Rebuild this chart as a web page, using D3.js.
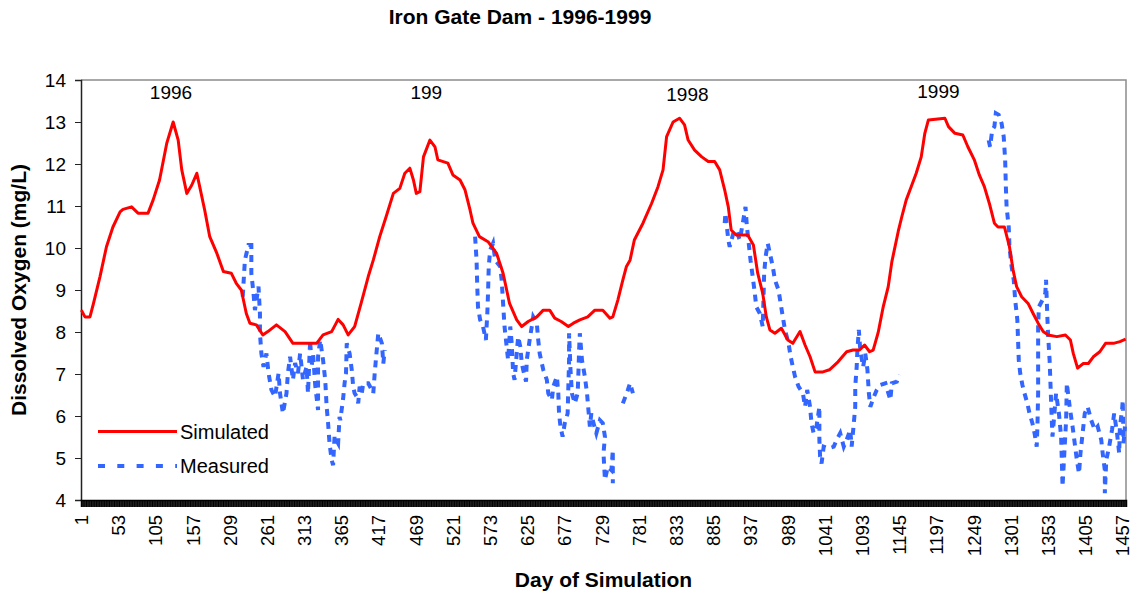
<!DOCTYPE html>
<html>
<head>
<meta charset="utf-8">
<title>Iron Gate Dam - 1996-1999</title>
<script src="https://cdn.jsdelivr.net/npm/d3@7"></script>
<style>
  html, body { margin: 0; padding: 0; background: #fff; }
  svg { display: block; font-family: "Liberation Sans", Arial, sans-serif; }
  .tick text { fill: #000; }
</style>
</head>
<body>
<svg id="chart" width="1132" height="594"></svg>
<script>
// Simulated DO (day, mg/L)
const simulated = [
  [1,8.52],[6,8.36],[13,8.36],[18,8.69],[27,9.32],[36,10.03],[45,10.5],[55,10.86],[59,10.92],[71,10.98],
  [80,10.83],[94,10.83],[101,11.14],[110,11.62],[120,12.49],[129,13.0],[136,12.57],[141,11.86],[148,11.3],
  [155,11.5],[162,11.78],[166,11.46],[173,10.9],[180,10.27],[190,9.87],[199,9.44],[210,9.4],[217,9.16],
  [224,9.0],[231,8.44],[236,8.21],[245,8.17],[254,7.93],[261,8.01],[273,8.17],[285,8.01],[296,7.73],
  [329,7.73],[338,7.93],[350,8.01],[359,8.3],[366,8.17],[373,7.93],[382,8.13],[391,8.68],[401,9.32],
  [408,9.71],[417,10.27],[426,10.75],[436,11.3],[445,11.42],[452,11.78],[459,11.9],[464,11.62],[468,11.3],
  [473,11.34],[478,12.17],[487,12.57],[494,12.41],[498,12.1],[512,12.02],[519,11.74],[529,11.62],[536,11.38],
  [543,10.9],[547,10.59],[556,10.27],[568,10.15],[580,9.87],[589,9.4],[598,8.68],[608,8.29],[615,8.13],
  [624,8.25],[636,8.36],[645,8.52],[654,8.52],[661,8.33],[670,8.25],[680,8.13],[687,8.21],[696,8.29],
  [707,8.36],[717,8.52],[728,8.52],[738,8.33],[742,8.36],[749,8.76],[756,9.24],[761,9.56],[766,9.71],
  [772,10.19],[784,10.59],[796,11.06],[805,11.46],[812,11.86],[817,12.65],[826,13.0],[835,13.09],[842,12.93],
  [847,12.57],[856,12.33],[866,12.17],[875,12.06],[884,12.06],[891,11.86],[898,11.38],[903,10.98],[907,10.43],
  [914,10.31],[930,10.31],[938,10.07],[944,9.4],[951,8.92],[956,8.36],[961,8.05],[968,7.97],[977,8.09],
  [986,7.81],[993,7.73],[1003,8.01],[1010,7.69],[1017,7.41],[1024,7.05],[1035,7.05],[1044,7.1],[1056,7.29],
  [1068,7.53],[1077,7.57],[1086,7.57],[1093,7.69],[1100,7.53],[1105,7.57],[1112,7.99],[1119,8.6],[1126,9.08],
  [1131,9.67],[1140,10.4],[1145,10.75],[1151,11.14],[1158,11.46],[1165,11.78],[1172,12.17],[1177,12.73],
  [1182,13.05],[1205,13.09],[1210,12.89],[1219,12.73],[1230,12.69],[1237,12.41],[1246,12.1],[1253,11.74],
  [1260,11.46],[1267,11.06],[1274,10.59],[1279,10.5],[1288,10.5],[1295,10.03],[1300,9.48],[1305,9.08],
  [1312,8.84],[1321,8.68],[1328,8.44],[1335,8.21],[1342,8.01],[1349,7.93],[1361,7.89],[1373,7.93],[1380,7.81],
  [1384,7.49],[1390,7.14],[1398,7.25],[1405,7.25],[1412,7.41],[1421,7.53],[1429,7.73],[1440,7.73],[1449,7.77],
  [1457,7.83]
];

// Measured DO, one array per continuous record
const measured1996 = [
  [226,8.84],[229,9.71],[234,10.07],[238,10.07],[238,9.4],[241,8.92],[243,8.52],[248,9.08],[250,8.44],[250,7.97],
  [252,7.49],[255,7.17],[259,7.49],[262,7.02],[266,6.62],[271,6.46],[276,7.02],[278,6.54],[282,6.06],[287,6.54],
  [289,7.02],[292,7.41],[296,6.86],[299,7.26],[303,7.02],[306,7.49],[310,6.86],[315,7.17],[317,6.54],[320,7.81],
  [322,7.17],[324,7.49],[327,6.74],[331,6.14],[331,7.41],[334,7.81],[338,7.33],[341,6.86],[343,6.22],[345,5.83],
  [347,5.35],[350,4.95],[352,4.83],[354,5.51],[359,5.35],[361,5.98],[362,5.9],[366,6.42],[368,6.78],[370,7.02],
  [371,7.73],[375,7.49],[378,7.1],[380,6.7],[382,6.54],[385,6.46],[387,6.3],[389,6.7],[392,6.54],[394,6.78],
  [401,6.78],[406,6.62],[408,6.54],[410,7.02],[412,7.41],[415,7.97],[420,7.73],[422,7.25],[424,7.57]
];
const measured1997 = [
  [550,10.27],[552,9.71],[553,9.08],[554,8.6],[557,8.29],[561,8.13],[565,7.81],[567,8.44],[568,8.92],[569,9.56],
  [571,9.95],[575,10.11],[578,9.71],[585,9.56],[587,9.24],[589,8.68],[591,8.13],[594,7.65],[596,7.33],[599,8.13],
  [601,7.73],[603,7.02],[605,6.86],[608,7.49],[610,7.89],[613,7.65],[615,7.26],[617,7.1],[621,6.82],[622,7.33],
  [626,7.81],[629,8.13],[631,8.36],[636,8.21],[638,7.81],[640,7.49],[645,7.1],[650,6.86],[652,6.54],[657,6.38],
  [659,6.7],[664,6.94],[666,6.54],[667,6.06],[669,5.75],[672,5.51],[675,5.83],[679,6.06],[680,6.7],[681,7.33],
  [681,7.97],[683,7.1],[685,6.54],[689,6.3],[693,6.54],[694,7.02],[695,7.57],[696,7.97],[699,7.33],[703,6.94],
  [706,6.54],[708,6.14],[710,5.75],[712,6.06],[715,5.83],[719,5.59],[724,5.9],[728,5.83],[731,5.51],[729,5.11],
  [731,4.48],[735,4.79],[740,4.71],[742,5.19],[742,4.4]
];
const measured1997b = [[756,6.3],[763,6.62],[766,6.78],[770,6.54]];
const measured1998 = [
  [898,10.59],[899,10.83],[903,10.19],[905,10.03],[910,10.35],[914,10.43],[919,10.19],[924,10.67],[927,10.98],
  [929,10.5],[932,10.03],[934,9.71],[937,9.32],[940,8.92],[942,8.6],[947,8.44],[951,8.13],[952,8.76],[953,9.4],
  [955,9.79],[958,10.11],[961,9.87],[965,9.56],[968,9.24],[973,9.0],[976,8.68],[979,8.36],[982,8.05],[987,7.73],
  [990,7.41],[993,7.17],[996,6.94],[1001,6.7],[1007,6.54],[1010,6.22],[1013,6.62],[1017,6.22],[1019,5.83],
  [1022,5.59],[1026,5.75],[1030,6.22],[1030,5.43],[1031,5.03],[1033,4.87],[1036,5.27],[1043,5.23],[1050,5.27],
  [1054,5.43],[1059,5.59],[1064,5.27],[1068,5.43],[1073,5.67],[1075,5.27],[1078,5.83],[1080,6.22],[1080,6.7],
  [1082,7.17],[1083,7.57],[1085,8.05],[1087,7.57],[1091,7.17],[1094,7.49],[1097,7.1],[1099,6.54],[1101,6.22],
  [1106,6.46],[1110,6.62],[1115,6.74],[1122,6.78],[1129,6.38],[1131,6.78],[1138,6.82],[1142,6.98]
];
const measured1999 = [
  [1266,12.57],[1268,12.41],[1271,12.81],[1274,12.89],[1276,13.21],[1280,13.17],[1284,12.97],[1287,12.65],
  [1289,12.1],[1290,11.46],[1291,10.98],[1294,10.5],[1295,10.03],[1298,9.56],[1301,9.24],[1303,8.76],[1306,8.29],
  [1307,7.81],[1308,7.33],[1310,7.02],[1313,6.74],[1316,6.54],[1320,6.3],[1323,6.06],[1327,5.83],[1330,5.59],
  [1333,5.27],[1334,5.75],[1335,6.54],[1335,7.33],[1335,8.13],[1336,8.6],[1341,8.76],[1345,8.92],[1346,9.24],
  [1348,8.29],[1349,7.89],[1351,7.33],[1352,6.86],[1353,6.38],[1354,5.9],[1355,5.51],[1360,6.54],[1364,6.06],
  [1367,5.51],[1368,4.95],[1369,4.32],[1371,4.95],[1374,5.9],[1375,6.78],[1379,6.22],[1381,5.98],[1383,5.75],
  [1386,5.35],[1389,4.95],[1392,4.63],[1394,5.11],[1400,6.06],[1404,6.22],[1409,5.9],[1414,5.67],[1418,5.75],
  [1423,5.43],[1425,5.11],[1428,4.71],[1428,4.16],[1430,4.95],[1434,5.27],[1438,5.67],[1441,6.06],[1445,5.59],
  [1448,5.11],[1449,5.75],[1452,6.14],[1453,6.38],[1454,5.35],[1456,5.75]
];

const dayCount = 1457;
const labelEvery = 52;
const yTicks = [4, 5, 6, 7, 8, 9, 10, 11, 12, 13, 14];
const yearLabels = [
  { text: "1996", day: 126, y: 13.55 },
  { text: "199", day: 482, y: 13.55 },
  { text: "1998", day: 846, y: 13.5 },
  { text: "1999", day: 1196, y: 13.57 }
];

(function () {
  "use strict";

  const svg = d3.select("#chart");
  const plot = { left: 81, right: 1126, top: 80, bottom: 500 };

  const days = d3.range(1, dayCount + 1);
  const x = d3.scaleBand().domain(days).range([plot.left, plot.right]).padding(0);
  const cx = (d) => x(d) + x.bandwidth() / 2;
  const y = d3.scaleLinear().domain([4, 14]).range([plot.bottom, plot.top]);

  // plot frame: grey top / right
  svg.append("path")
    .attr("d", `M${plot.left},${plot.top}H${plot.right}V${plot.bottom}`)
    .attr("fill", "none")
    .attr("stroke", "#8c8c8c")
    .attr("stroke-width", 1.5);

  // y axis
  const yAxis = svg.append("g")
    .attr("transform", `translate(${plot.left},0)`)
    .call(d3.axisLeft(y).tickValues(yTicks).tickSize(6).tickPadding(9));
  yAxis.selectAll("text").attr("font-size", 19).attr("font-family", "Liberation Sans, Arial, sans-serif");
  yAxis.select(".domain").attr("stroke", "#222").attr("stroke-width", 1.5);
  yAxis.selectAll(".tick line").attr("stroke", "#222");

  // x axis: one tick per day, label every 52 days
  const xAxis = svg.append("g")
    .attr("transform", `translate(0,${plot.bottom})`)
    .call(d3.axisBottom(x).tickValues(days).tickSize(7)
      .tickFormat((d) => ((d - 1) % labelEvery === 0 ? d : "")));
  xAxis.select(".domain").attr("stroke", "#000").attr("stroke-width", 1.5);
  xAxis.selectAll(".tick line").attr("stroke", "#000").attr("stroke-width", 1);
  // labels sit a little left of the band centre, as in the source chart
  xAxis.selectAll("text")
    .attr("font-size", 18.5)
    .attr("font-family", "Liberation Sans, Arial, sans-serif")
    .attr("y", (d) => -3 * (d / dayCount))
    .attr("x", -15)
    .attr("dy", "0.35em")
    .attr("transform", "rotate(-90)")
    .style("text-anchor", "end");

  const line = d3.line().x((d) => cx(d[0])).y((d) => y(d[1]));

  // measured (dashed blue)
  [measured1996, measured1997, measured1997b, measured1998, measured1999].forEach((seg) => {
    svg.append("path")
      .datum(seg)
      .attr("d", line)
      .attr("fill", "none")
      .attr("stroke", "#3366ff")
      .attr("stroke-width", 4)
      .attr("stroke-dasharray", "7,6");
  });

  // simulated (solid red)
  svg.append("path")
    .datum(simulated)
    .attr("d", line)
    .attr("fill", "none")
    .attr("stroke", "#ff0000")
    .attr("stroke-width", 3)
    .attr("stroke-linejoin", "round");

  // year annotations
  svg.append("g").selectAll("text")
    .data(yearLabels)
    .join("text")
    .attr("x", (d) => cx(d.day))
    .attr("y", (d) => y(d.y))
    .attr("text-anchor", "middle")
    .attr("font-size", 19)
    .text((d) => d.text);

  // legend
  const legend = svg.append("g").attr("font-size", 20);
  legend.append("line")
    .attr("x1", 98).attr("x2", 177).attr("y1", 431.5).attr("y2", 431.5)
    .attr("stroke", "#ff0000").attr("stroke-width", 3);
  legend.append("text").attr("x", 180).attr("y", 438.5).text("Simulated");
  legend.append("line")
    .attr("x1", 98).attr("x2", 177).attr("y1", 466).attr("y2", 466)
    .attr("stroke", "#3366ff").attr("stroke-width", 4)
    .attr("stroke-dasharray", "7,12.3");
  legend.append("text").attr("x", 180).attr("y", 472.5).text("Measured");

  // titles
  svg.append("text")
    .attr("x", 520).attr("y", 24)
    .attr("text-anchor", "middle")
    .attr("font-size", 21).attr("font-weight", "bold")
    .text("Iron Gate Dam - 1996-1999");

  svg.append("text")
    .attr("x", (plot.left + plot.right) / 2).attr("y", 587)
    .attr("text-anchor", "middle")
    .attr("font-size", 21).attr("font-weight", "bold")
    .text("Day of Simulation");

  svg.append("text")
    .attr("transform", `translate(26,${(plot.top + plot.bottom) / 2}) rotate(-90)`)
    .attr("text-anchor", "middle")
    .attr("font-size", 21).attr("font-weight", "bold")
    .text("Dissolved Oxygen (mg/L)");
})();
</script>
</body>
</html>
